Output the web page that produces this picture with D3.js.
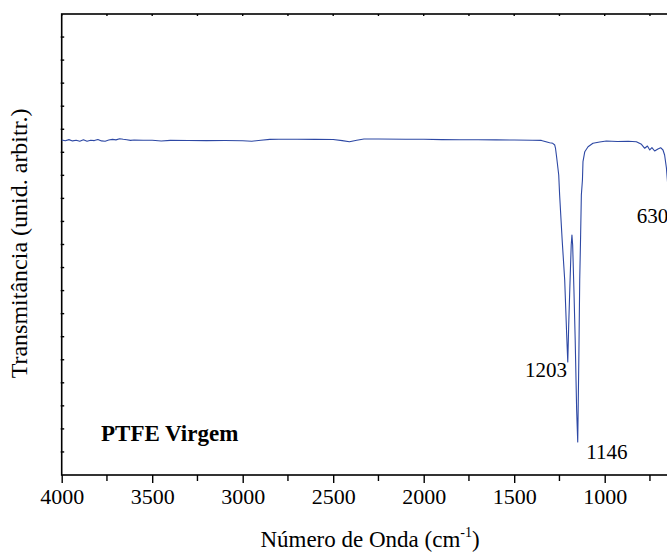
<!DOCTYPE html>
<html>
<head>
<meta charset="utf-8">
<script src="https://cdn.jsdelivr.net/npm/d3@7"></script>
<style>
  html, body { margin: 0; padding: 0; background: #fff; overflow: hidden; }
  text { font-family: "Liberation Serif", "DejaVu Serif", serif; fill: #000; }
</style>
</head>
<body>
<svg id="ftir-chart"></svg>
<script>
// FTIR spectrum of virgin PTFE
const wavenumber = [4000, 3980, 3960, 3940, 3920, 3900, 3880, 3860, 3840, 3820, 3800, 3780, 3760, 3740, 3720, 3700, 3680, 3660, 3640, 3620, 3600,
  3550, 3500, 3450, 3400, 3300, 3200, 3100, 3000, 2950, 2900, 2850, 2800, 2700, 2600, 2500, 2450, 2410, 2370, 2330, 2250,
  2100, 2000, 1900, 1800, 1700, 1600, 1500, 1400, 1350, 1304, 1287, 1276, 1272, 1265, 1254, 1249, 1235, 1221, 1210, 1204,
  1199, 1193, 1185, 1181, 1177, 1170, 1163, 1155, 1149, 1143, 1138, 1133, 1129, 1123, 1120, 1110, 1092, 1065, 1028, 991,
  930, 870, 825, 797, 779, 764, 751, 739, 724, 706, 691, 678, 669, 659, 645, 630, 615, 600, 560, 500, 450, 400];
const transmittance = [72.67, 72.49, 72.75, 72.47, 72.60, 72.41, 72.71, 72.39, 72.62, 72.54, 72.78, 72.47, 72.41, 72.65, 72.80, 72.69, 72.93, 72.82, 72.73, 72.58, 72.67,
  72.60, 72.62, 72.45, 72.58, 72.56, 72.54, 72.56, 72.52, 72.39, 72.62, 72.80, 72.82, 72.82, 72.80, 72.78, 72.54, 72.30, 72.62, 72.89, 72.89,
  72.84, 72.82, 72.75, 72.71, 72.71, 72.69, 72.67, 72.62, 72.58, 72.08, 71.95, 71.58, 70.93, 68.76, 65.08, 60.74, 50.98, 42.30, 30.37, 24.51,
  32.32, 40.13, 49.89, 52.06, 49.89, 40.13, 29.28, 14.10, 7.16, 24.95, 42.30, 52.06, 60.74, 63.99, 67.96, 70.13, 71.21, 71.95, 72.23, 72.45,
  72.34, 72.39, 72.30, 71.74, 70.87, 71.37, 70.50, 71.00, 70.28, 70.72, 71.00, 70.50, 69.41, 66.59, 59.65, 54.23, 59.65, 65.08, 70.50, 71.58, 71.58, 71.37];

const xTickValues = [4000, 3500, 3000, 2500, 2000, 1500, 1000];
const xMinorValues = [3750, 3250, 2750, 2250, 1750, 1250, 750];
const yTickValues = d3.range(0, 101, 5);

const peakLabels = [
  { wn: 1203, t: 24.51, text: "1203" },
  { wn: 1146, t: 7.16, text: "1146" },
  { wn: 630, t: 54.23, text: "630" }
];

const sampleName = "PTFE Virgem";

const width = 667;
const height = 554;
const margin = { top: 14, left: 61.7, bottom: 475 };

const svg = d3.select("#ftir-chart")
  .attr("width", width)
  .attr("height", height);

// wavenumber decreases to the right; the frame runs on past the right edge
const x = d3.scaleLinear()
  .domain([4000, 400])
  .range([margin.left, margin.left + 3600 * 0.181]);

const y = d3.scaleLinear()
  .domain([0, 100])
  .range([margin.bottom, margin.top]);

const data = wavenumber.map((w, i) => [w, transmittance[i]]);

// frame
svg.append("rect")
  .attr("x", x(4000))
  .attr("y", y(100))
  .attr("width", x(400) - x(4000))
  .attr("height", y(0) - y(100))
  .attr("fill", "none")
  .attr("stroke", "#000")
  .attr("stroke-width", 1.6);

// bottom axis, major + minor ticks
const bottomAxis = svg.append("g")
  .attr("transform", `translate(0,${margin.bottom})`)
  .call(d3.axisBottom(x).tickValues(xTickValues).tickSize(8).tickPadding(5).tickFormat(d3.format("d")));
bottomAxis.select(".domain").remove();
bottomAxis.selectAll("line").attr("stroke-width", 1.4);
bottomAxis.selectAll("text")
  .style("font-size", "22px")
  .style("font-family", "'Liberation Serif', serif");

svg.append("g")
  .attr("transform", `translate(0,${margin.bottom})`)
  .selectAll("line")
  .data(xMinorValues)
  .join("line")
  .attr("x1", d => x(d)).attr("x2", d => x(d))
  .attr("y1", 0).attr("y2", 6)
  .attr("stroke", "#000")
  .attr("stroke-width", 1.4);

// top axis ticks (small, inward)
svg.append("g")
  .selectAll("line")
  .data(xTickValues.concat(xMinorValues))
  .join("line")
  .attr("x1", d => x(d)).attr("x2", d => x(d))
  .attr("y1", margin.top).attr("y2", margin.top + 2)
  .attr("stroke", "#000")
  .attr("stroke-width", 1.4);

// left axis ticks, no labels
svg.append("g")
  .selectAll("line")
  .data(yTickValues.slice(1, -1))
  .join("line")
  .attr("x1", margin.left - 1).attr("x2", margin.left + 2.5)
  .attr("y1", d => y(d)).attr("y2", d => y(d))
  .attr("stroke", "#000")
  .attr("stroke-width", 1.4);

// spectrum line
const line = d3.line()
  .x(d => x(d[0]))
  .y(d => y(d[1]));

svg.append("path")
  .datum(data)
  .attr("fill", "none")
  .attr("stroke", "#2d48a4")
  .attr("stroke-width", 1.1)
  .attr("stroke-linejoin", "round")
  .attr("d", line);

// peak labels
const labelOffsets = { "1203": [-43, 15], "1146": [8, 17], "630": [-35, -2] };
svg.append("g")
  .selectAll("text")
  .data(peakLabels)
  .join("text")
  .attr("x", d => x(d.wn) + labelOffsets[d.text][0])
  .attr("y", d => y(d.t) + labelOffsets[d.text][1])
  .style("font-size", "21px")
  .text(d => d.text);

// sample name
svg.append("text")
  .attr("x", 101)
  .attr("y", 441)
  .style("font-size", "23px")
  .style("font-weight", "bold")
  .text(sampleName);

// axis titles
const xTitle = svg.append("text")
  .attr("x", 370)
  .attr("y", 547)
  .attr("text-anchor", "middle")
  .style("font-size", "23px");
xTitle.append("tspan").text("Número de Onda (cm");
xTitle.append("tspan").attr("dy", -10).style("font-size", "14px").text("-1");
xTitle.append("tspan").attr("dy", 10).text(")");

svg.append("text")
  .attr("transform", `translate(27,${(margin.top + margin.bottom) / 2 - 1}) rotate(-90)`)
  .attr("text-anchor", "middle")
  .style("font-size", "24px")
  .text("Transmitância (unid. arbitr.)");
</script>
</body>
</html>
